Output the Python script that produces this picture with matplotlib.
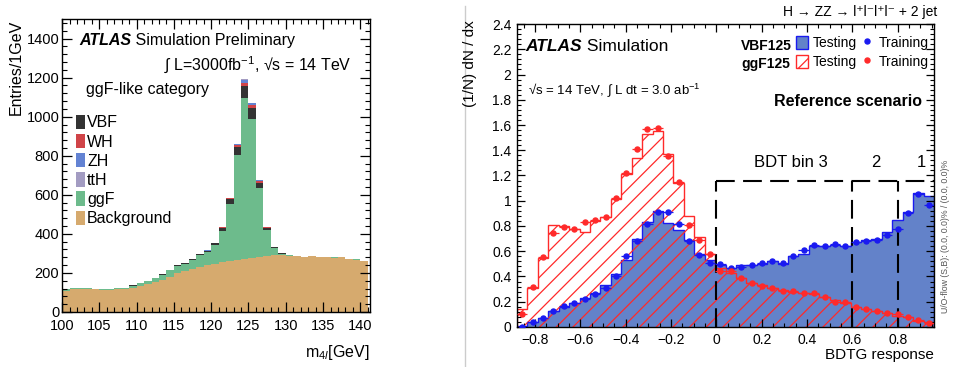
import numpy as np
import matplotlib
matplotlib.use('Agg')
import matplotlib.pyplot as plt
import matplotlib.ticker as ticker
from matplotlib.patches import Patch
from matplotlib.lines import Line2D

plt.rcParams['font.family'] = ['Liberation Sans', 'DejaVu Sans']
plt.rcParams['mathtext.fontset'] = 'custom'
plt.rcParams['mathtext.rm'] = 'Liberation Sans'
plt.rcParams['mathtext.it'] = 'Liberation Sans:italic'
plt.rcParams['mathtext.bf'] = 'Liberation Sans:bold'
plt.rcParams['hatch.linewidth'] = 0.9
plt.rcParams['axes.linewidth'] = 1.0

# ---------------- left panel: m4l in the ggF-like category (1 GeV bins, 100-141)
m4l_edges = np.arange(100, 142)
background = [105, 115, 117, 117, 115, 110, 113, 115, 117, 125,
              135, 145, 155, 165, 180, 200, 212, 222, 232, 238,
              245, 255, 262, 268, 272, 278, 283, 288, 290, 290,
              288, 285, 282, 285, 282, 280, 278, 280, 272, 268, 262]
ggF = [13, 6, 4, 4, 4, 6, 6, 6, 7, 10,
       11, 15, 18, 25, 34, 36, 36, 43, 59, 69,
       98, 160, 290, 536, 823, 712, 350, 130, 40, 9,
       2, 2, 2, 1, 1, 1, 1, 1, 1, 1, 1]
VBF = [1, 1, 1, 1, 1, 1, 1, 1, 1, 1,
       1, 1, 1, 2, 3, 3, 3, 4, 5, 6,
       8, 14, 24, 42, 60, 53, 30, 12, 4, 1,
       0, 0, 0, 0, 0, 0, 0, 0, 0, 0, 0]
WH = [0, 0, 0, 0, 0, 0, 0, 0, 0, 0,
      0, 0, 0, 0, 0, 0, 0, 1, 1, 1,
      2, 4, 6, 7, 20, 17, 8, 3, 1, 0,
      0, 0, 0, 0, 0, 0, 0, 0, 0, 0, 0]
ZH = [0, 0, 0, 0, 0, 0, 0, 0, 0, 0,
      0, 0, 0, 0, 0, 0, 0, 0, 1, 1,
      1, 2, 3, 8, 14, 10, 4, 2, 0, 0,
      0, 0, 0, 0, 0, 0, 0, 0, 0, 0, 0]
ttH = [0, 0, 0, 0, 0, 0, 0, 0, 0, 0,
       0, 0, 0, 0, 0, 0, 0, 0, 0, 0,
       0, 0, 1, 1, 2, 2, 1, 0, 0, 0,
       0, 0, 0, 0, 0, 0, 0, 0, 0, 0, 0]

stack = [('Background', background, '#D6AA6E'),
         ('ggF', ggF, '#6DBB8C'),
         ('VBF', VBF, '#333333'),
         ('WH', WH, '#D04448'),
         ('ZH', ZH, '#6383D3'),
         ('ttH', ttH, '#A39CC2')]
legend_order = ['VBF', 'WH', 'ZH', 'ttH', 'ggF', 'Background']

# ---------------- right panel: BDTG response (40 bins)
bdt_edges = np.linspace(-0.88, 0.96, 41)
vbf_test = [0.01, 0.04, 0.07, 0.13, 0.16, 0.19, 0.23, 0.27, 0.33, 0.42,
            0.53, 0.70, 0.83, 0.92, 0.82, 0.77, 0.69, 0.58, 0.53, 0.49,
            0.465, 0.49, 0.49, 0.50, 0.52, 0.50, 0.56, 0.58, 0.64, 0.64,
            0.65, 0.64, 0.675, 0.69, 0.70, 0.75, 0.85, 0.91, 1.06, 1.04]
vbf_train = [0.0, 0.037, 0.074, 0.13, 0.17, 0.187, 0.22, 0.26, 0.306, 0.40,
             0.56, 0.68, 0.816, 0.91, 0.91, 0.816, 0.68, 0.57, 0.504, 0.50,
             0.47, 0.478, 0.49, 0.504, 0.52, 0.504, 0.56, 0.61, 0.65, 0.64,
             0.657, 0.64, 0.675, 0.68, 0.69, 0.73, 0.78, 0.905, 1.05, 0.97]
ggf_test = [0.14, 0.31, 0.55, 0.81, 0.80, 0.78, 0.75, 0.84, 0.87, 1.01,
            1.21, 1.34, 1.53, 1.55, 1.37, 1.14, 0.88, 0.71, 0.58, 0.47,
            0.43, 0.39, 0.35, 0.33, 0.31, 0.29, 0.28, 0.27, 0.26, 0.24,
            0.21, 0.19, 0.16, 0.14, 0.13, 0.11, 0.09, 0.08, 0.05, 0.04]
ggf_train = [0.10, 0.32, 0.557, 0.747, 0.79, 0.78, 0.83, 0.85, 0.87, 1.02,
             1.22, 1.41, 1.57, 1.58, 1.355, 1.146, 0.81, 0.69, 0.576, 0.444,
             0.44, 0.39, 0.345, 0.327, 0.31, 0.285, 0.285, 0.267, 0.267, 0.24,
             0.20, 0.20, 0.16, 0.14, 0.127, 0.114, 0.10, 0.08, 0.055, 0.03]
bdt_bin_cuts = [0.0, 0.6, 0.8]
bdt_cut_height = 1.16

BLUE_FILL = '#6382C9'
BLUE = '#1A1AF0'
RED = '#FF2A2A'


def root_style(ax, major_len, minor_len):
    ax.tick_params(which='both', direction='in', top=True, right=True)
    ax.tick_params(which='major', length=major_len, width=0.9)
    ax.tick_params(which='minor', length=minor_len, width=0.8)


fig = plt.figure(figsize=(9.56, 3.67), dpi=100)

# ===== left
ax1 = fig.add_axes([0.0649, 0.150, 0.3222, 0.798])
bottom = np.zeros(len(background))
for name, vals, col in stack:
    vals = np.array(vals, dtype=float)
    ax1.stairs(bottom + vals, m4l_edges, baseline=bottom, fill=True,
               color=col, linewidth=0)
    bottom = bottom + vals

ax1.set_xlim(100, 141.3)
ax1.set_ylim(0, 1500)
ax1.xaxis.set_major_locator(ticker.MultipleLocator(5))
ax1.xaxis.set_minor_locator(ticker.MultipleLocator(1))
ax1.yaxis.set_major_locator(ticker.MultipleLocator(200))
ax1.yaxis.set_minor_locator(ticker.MultipleLocator(40))
root_style(ax1, 7, 3.5)
ax1.tick_params(labelsize=10.5)
ax1.tick_params(axis='x', pad=5)
ax1.tick_params(axis='y', pad=2)

t = ax1.text(0.055, 0.911, 'ATLAS', transform=ax1.transAxes, fontsize=11.5,
             fontweight='bold', fontstyle='italic', va='baseline')
ax1.annotate(' Simulation Preliminary', xy=(1, 0), xycoords=t, fontsize=11.5,
             va='bottom')
ax1.text(0.94, 0.826, r'$\int$ L=3000fb$^{-1}$, √s = 14 TeV',
         transform=ax1.transAxes, fontsize=11.5, ha='right', va='baseline')
ax1.text(0.078, 0.744, 'ggF-like category', transform=ax1.transAxes,
         fontsize=11.5, va='baseline')

colors = {name: col for name, _, col in stack}
handles = [Patch(facecolor=colors[n], edgecolor='none') for n in legend_order]
ax1.legend(handles, legend_order, loc='upper left', bbox_to_anchor=(0.045, 0.673),
           frameon=False, fontsize=11.5, handlelength=0.55, handleheight=1.0,
           handletextpad=0.15, labelspacing=0.22, borderpad=0, borderaxespad=0)

fig.text(0.017, 0.946, 'Entries/1GeV', rotation=90, ha='center', va='top',
         fontsize=11.5)
fig.text(0.387, 0.028, r'm$_{4l}$[GeV]', ha='right', va='baseline', fontsize=11.5)

# ===== right
ax2 = fig.add_axes([0.5408, 0.109, 0.4362, 0.8256])
ax2.stairs(vbf_test, bdt_edges, fill=True, facecolor=BLUE_FILL, edgecolor='none')
ax2.stairs(vbf_test, bdt_edges, color=BLUE, linewidth=1.0)
ax2.stairs(ggf_test, bdt_edges, fill=True, facecolor='none', edgecolor=RED,
           hatch='//', linewidth=1.0)

centers = 0.5 * (bdt_edges[1:] + bdt_edges[:-1])
half = 0.5 * (bdt_edges[1] - bdt_edges[0])
ax2.errorbar(centers, vbf_train, xerr=half, fmt='o', ms=3.6, color=BLUE,
             elinewidth=0.9, capsize=0, zorder=5)
ax2.errorbar(centers, ggf_train, xerr=half, fmt='o', ms=3.6, color=RED,
             elinewidth=0.9, capsize=0, zorder=5)

# BDT category boundaries
dash = dict(color='black', linewidth=1.5, dashes=(9, 4))
for c in bdt_bin_cuts:
    ax2.plot([c, c], [0, bdt_cut_height], **dash)
ax2.plot([bdt_bin_cuts[0], bdt_edges[-1]], [bdt_cut_height, bdt_cut_height], **dash)
ax2.text(0.33, 1.30, 'BDT bin 3', fontsize=12, ha='center', va='center')
ax2.text(0.705, 1.30, '2', fontsize=12, ha='center', va='center')
ax2.text(0.905, 1.30, '1', fontsize=12, ha='center', va='center')

ax2.set_xlim(bdt_edges[0], bdt_edges[-1])
ax2.set_ylim(0, 2.4)
ax2.xaxis.set_major_locator(ticker.MultipleLocator(0.2))
ax2.xaxis.set_minor_locator(ticker.MultipleLocator(0.05))
ax2.yaxis.set_major_locator(ticker.MultipleLocator(0.2))
ax2.yaxis.set_minor_locator(ticker.MultipleLocator(0.04))
fmt = ticker.FuncFormatter(lambda v, p: ('%g' % round(v, 2)).replace('-', '\u2212'))
ax2.xaxis.set_major_formatter(fmt)
ax2.yaxis.set_major_formatter(fmt)
root_style(ax2, 6, 3)
ax2.tick_params(labelsize=10, pad=4)

t2 = ax2.text(0.019, 0.912, 'ATLAS', transform=ax2.transAxes, fontsize=12.5,
              fontweight='bold', fontstyle='italic', va='baseline')
ax2.annotate(' Simulation', xy=(1, 0), xycoords=t2, fontsize=12.5, va='bottom')
ax2.text(0.026, 0.769, r'√s = 14 TeV, $\int$ L dt = 3.0 ab$^{-1}$',
         transform=ax2.transAxes, fontsize=9.5, va='baseline')
ax2.text(0.971, 0.729, 'Reference scenario', transform=ax2.transAxes,
         fontsize=11.5, fontweight='bold', ha='right', va='baseline')

ax2.text(0.537, 0.915, 'VBF125', transform=ax2.transAxes, fontsize=10,
         fontweight='bold', va='baseline')
ax2.text(0.537, 0.855, 'ggF125', transform=ax2.transAxes, fontsize=10,
         fontweight='bold', va='baseline')
lh = [Patch(facecolor=BLUE_FILL, edgecolor=BLUE),
      Patch(facecolor='none', edgecolor=RED, hatch='//'),
      Line2D([], [], marker='o', ms=3.6, color=BLUE, linestyle='none'),
      Line2D([], [], marker='o', ms=3.6, color=RED, linestyle='none')]
ax2.legend(lh, ['Testing', 'Testing', 'Training', 'Training'], ncol=2,
           loc='upper left', bbox_to_anchor=(0.668, 0.962), frameon=False,
           fontsize=10, handlelength=0.9, handleheight=1.1, handletextpad=0.35,
           columnspacing=0.3, labelspacing=0.35, borderpad=0, borderaxespad=0)

fig.text(0.980, 0.956, 'H \u2192 ZZ \u2192 l\u207al\u207bl\u207al\u207b + 2 jet',
         ha='right', va='baseline', fontsize=10)
fig.text(0.9885, 0.355, 'U/O-flow (S,B): (0.0, 0.0)% / (0.0, 0.0)%', rotation=90,
         ha='center', va='center', fontsize=6.3, color='#555555')
fig.text(0.4916, 0.946, '(1/N) dN / dx', rotation=90, ha='center', va='top',
         fontsize=11)
fig.text(0.977, 0.022, 'BDTG response', ha='right', va='baseline', fontsize=11)

# thin frame line of the second picture
fig.add_artist(Line2D([0.4865, 0.4865], [0.0, 0.985], transform=fig.transFigure,
                      color='#CCCCCC', linewidth=1.0))

fig.savefig('out.png', dpi=100)
